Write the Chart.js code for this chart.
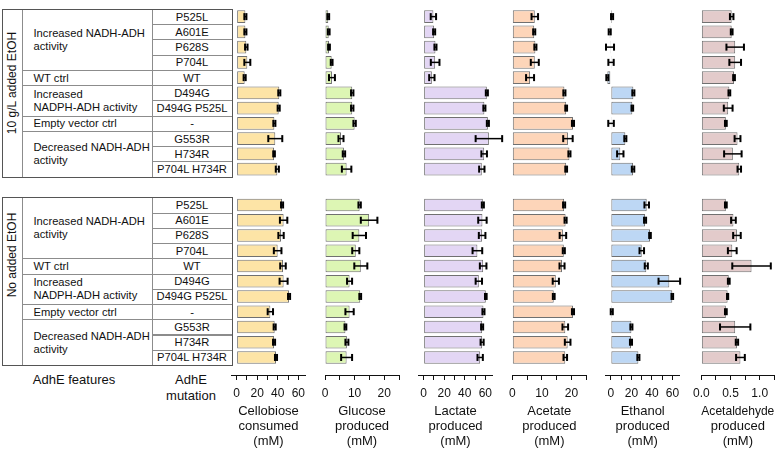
<!DOCTYPE html>
<html>
<head>
<meta charset="utf-8">
<script src="https://cdn.jsdelivr.net/npm/chart.js@4.4.1/dist/chart.umd.min.js"></script>
<style>
    body { margin: 0; background: #fff; font-family: "Liberation Sans", Arial, sans-serif; color: #111; }
    #wrap { position: relative; width: 775px; height: 449px; overflow: hidden; }
    .cell { position: absolute; box-sizing: border-box; border: 1px solid #8c8c8c; display: flex; align-items: center; font-size: 11.2px; line-height: 13px; white-space: nowrap; }
    .feat { padding-left: 11px; }
    .mut { justify-content: center; }
    .box { position: absolute; box-sizing: border-box; border: 1px solid #555; }
    .vlabel { position: absolute; font-size: 12px; white-space: nowrap; transform: translate(-50%, -50%) rotate(-90deg); }
    .foot { position: absolute; font-size: 13px; line-height: 16px; text-align: center; transform: translateX(-50%); white-space: nowrap; }
    canvas { position: absolute; top: 0; }
</style>
</head>
<body>
<div id="wrap"></div>
<script>
// =====================
// DATA (first 11 rows: 10 g/L added EtOH, last 11 rows: no added EtOH)
// =====================
const conditions = ['10 g/L added EtOH', 'No added EtOH'];
const featureLabels = ['Increased NADH-ADH<br>activity', 'WT ctrl', 'Increased<br>NADPH-ADH activity', 'Empty vector ctrl', 'Decreased NADH-ADH<br>activity'];
const featureSpans = [4, 1, 2, 1, 3];
const mutations = ['P525L', 'A601E', 'P628S', 'P704L', 'WT', 'D494G', 'D494G P525L', '-', 'G553R', 'H734R', 'P704L H734R'];

const cellobiose    = [8.5, 8.5, 9.4, 10.4, 7.8, 41.5, 40.9, 36.7, 37.6, 36.4, 39.6, 44.2, 45.7, 43.2, 39.9, 45.1, 45.7, 51.0, 32.8, 37.0, 36.4, 38.3];
const cellobioseErr = [1.0, 1.0, 1.2, 2.9, 1.0, 1.0, 1.0, 1.0, 6.8, 0.8, 1.5, 1.0, 3.6, 2.6, 3.7, 2.7, 3.9, 1.0, 2.6, 1.0, 1.0, 1.0];

const glucose    = [1.1, 1.25, 1.35, 2.25, 2.35, 9.2, 9.2, 10.0, 5.4, 6.4, 7.3, 11.7, 14.9, 11.6, 10.4, 12.1, 8.3, 11.9, 8.3, 6.9, 7.4, 7.3];
const glucoseErr = [0.3, 0.3, 0.3, 0.3, 1.0, 0.4, 0.4, 0.4, 0.85, 0.4, 1.6, 0.4, 2.8, 2.25, 1.2, 2.2, 0.85, 0.3, 1.4, 0.3, 0.5, 1.85];

const lactate    = [9.5, 10.2, 11.5, 11.2, 8.0, 61.5, 59.1, 62.5, 63.5, 58.9, 56.6, 57.6, 57.2, 56.9, 52.3, 57.9, 53.7, 60.5, 58.2, 56.9, 56.9, 55.0];
const lactateErr = [2.6, 1.0, 1.0, 4.2, 2.6, 1.0, 1.0, 1.0, 12.9, 2.7, 2.6, 1.0, 4.1, 3.2, 4.7, 3.2, 3.1, 0.8, 1.0, 1.0, 1.5, 2.6];

const acetate    = [7.6, 7.4, 7.8, 7.6, 6.0, 17.6, 18.2, 20.5, 18.8, 19.3, 18.2, 17.5, 18.0, 17.1, 17.4, 16.8, 14.7, 14.0, 20.5, 17.9, 18.7, 17.9];
const acetateErr = [1.1, 0.35, 0.35, 1.35, 1.35, 0.35, 0.3, 0.35, 1.6, 0.35, 0.3, 0.35, 0.35, 1.1, 0.35, 0.85, 1.05, 0.3, 0.35, 0.95, 0.95, 0.6];

const ethanol    = [1.2, -1.1, -0.8, 0.2, -3.4, 21.9, 20.9, 0.2, 14.1, 9.2, 21.6, 34.9, 33.3, 38.1, 30.1, 34.5, 56.9, 59.8, 0.9, 20.0, 19.6, 26.8];
const ethanolErr = [1.0, 1.0, 3.9, 2.6, 1.0, 1.0, 0.8, 2.7, 1.0, 3.1, 1.2, 2.2, 1.0, 0.8, 2.2, 1.5, 10.5, 0.8, 1.0, 1.0, 1.0, 1.0];

const acetaldehyde    = [0.52, 0.52, 0.58, 0.58, 0.56, 0.48, 0.46, 0.42, 0.62, 0.54, 0.65, 0.42, 0.55, 0.61, 0.53, 0.86, 0.47, 0.45, 0.42, 0.58, 0.61, 0.67];
const acetaldehydeErr = [0.03, 0.015, 0.15, 0.1, 0.015, 0.015, 0.075, 0.015, 0.05, 0.15, 0.03, 0.015, 0.04, 0.065, 0.075, 0.33, 0.015, 0.01, 0.015, 0.26, 0.02, 0.075];

// axis ticks and labels
const ticks60 = [0, 10, 20, 30, 40, 50, 60];
const labels60 = [0, 20, 40, 60];
const ticks25 = [0, 5, 10, 15, 20, 25];
const labels25 = [0, 10, 20];
const ticksAld = [0, 0.25, 0.5, 0.75, 1.0, 1.25];
const labelsAld = [0, 0.5, 1.0];

const panels = [
    { values: cellobiose, errors: cellobioseErr, color: '#fde4a6', min: -5, max: 67, ticks: ticks60, labels: labels60, digits: 0, title: ['Cellobiose', 'consumed', '(mM)'] },
    { values: glucose, errors: glucoseErr, color: '#ddf6b4', min: 0, max: 25, ticks: ticks25, labels: labels25, digits: 0, title: ['Glucose', 'produced', '(mM)'] },
    { values: lactate, errors: lactateErr, color: '#e3d6f4', min: -5, max: 67, ticks: ticks60, labels: labels60, digits: 0, title: ['Lactate', 'produced', '(mM)'] },
    { values: acetate, errors: acetateErr, color: '#fdd5b9', min: 0, max: 25, ticks: ticks25, labels: labels25, digits: 0, title: ['Acetate', 'produced', '(mM)'] },
    { values: ethanol, errors: ethanolErr, color: '#bdd7f4', min: -5, max: 67, ticks: ticks60, labels: labels60, digits: 0, title: ['Ethanol', 'produced', '(mM)'] },
    { values: acetaldehyde, errors: acetaldehydeErr, color: '#e3cbcb', min: 0, max: 1.25, ticks: ticksAld, labels: labelsAld, digits: 1, title: ['Acetaldehyde', 'produced', '(mM)'] }
];

// =====================
// LAYOUT
// =====================
const FONT = '"Liberation Sans", Arial, sans-serif';
const ROW_H = 15.245;
const GROUP_TOP = [9, 197.3];
const GAP_ROWS = 1.35;            // extra rows between the two groups
const AXIS_ROWS = 0.65;           // space between last bar and x axis
const COLS = [1.5, 21.5, 151.5, 231.5];
const VLABEL_Y = [83, 254.5];
const PLOT_LEFT = [231.5, 325, 418.5, 512.3, 605.7, 699.3];
const PLOT_W = [74, 74, 74, 74, 74, 75];
const CANVAS_W = 100;
const AXIS_H = 74;

const wrap = document.getElementById('wrap');
const rowPos = i => i < mutations.length ? i : i + GAP_ROWS;

function addDiv(cls, x, y, w, h, html) {
    const d = document.createElement('div');
    d.className = cls;
    d.style.left = x + 'px';
    d.style.top = y + 'px';
    if (w != null) d.style.width = w + 'px';
    if (h != null) d.style.height = h + 'px';
    if (html != null) d.innerHTML = html;
    wrap.appendChild(d);
    return d;
}

// =====================
// TABLE
// =====================
GROUP_TOP.forEach((top, g) => {
    const h = mutations.length * ROW_H;
    addDiv('cell', COLS[0], top, COLS[1] - COLS[0] + 1, h + 1, '');
    let r = 0;
    featureLabels.forEach((lab, k) => {
        addDiv('cell feat', COLS[1], top + r * ROW_H, COLS[2] - COLS[1] + 1, featureSpans[k] * ROW_H + 1, lab);
        r += featureSpans[k];
    });
    mutations.forEach((m, i) => {
        addDiv('cell mut', COLS[2], top + i * ROW_H, COLS[3] - COLS[2] + 1, ROW_H + 1, m);
    });
    addDiv('box', COLS[0], top, COLS[3] - COLS[0] + 1, h + 1);
    addDiv('vlabel', (COLS[0] + COLS[1]) / 2 + 0.5, VLABEL_Y[g], null, null, conditions[g]);
});

addDiv('foot', 74, 372, null, null, 'AdhE features');
addDiv('foot', 191, 372, null, null, 'AdhE<br>mutation');

// =====================
// ERROR BARS
// =====================
const errorBars = {
    id: 'errorBars',
    afterDatasetsDraw(chart) {
        const ctx = chart.ctx;
        const xs = chart.scales.x;
        const ds = chart.data.datasets[0];
        chart.getDatasetMeta(0).data.forEach((bar, i) => {
            const v = ds.data[i].x;
            const lo = xs.getPixelForValue(v - ds.errors[i]);
            const hi = xs.getPixelForValue(v + ds.errors[i]);
            ctx.save();
            ctx.strokeStyle = '#000';
            ctx.lineWidth = 1.5;
            ctx.beginPath();
            ctx.moveTo(lo, bar.y);
            ctx.lineTo(hi, bar.y);
            ctx.stroke();
            ctx.fillStyle = '#000';
            ctx.fillRect(lo - 1, bar.y - 3.5, 2, 7);
            ctx.fillRect(hi - 1, bar.y - 3.5, 2, 7);
            ctx.restore();
        });
    }
};

// =====================
// CHARTS
// =====================
const allRows = cellobiose.map((_, i) => rowPos(i));

panels.forEach((p, k) => {
    const canvas = document.createElement('canvas');
    const left = Math.floor(PLOT_LEFT[k]) - 12;
    const padLeft = PLOT_LEFT[k] - left;
    canvas.width = CANVAS_W;
    canvas.height = 449;
    canvas.style.left = left + 'px';
    wrap.appendChild(canvas);

    const isLabel = v => p.labels.some(l => Math.abs(l - v) < 1e-9);

    new Chart(canvas, {
        type: 'bar',
        data: {
            datasets: [{
                data: p.values.map((v, i) => ({ x: v, y: rowPos(i) })),
                errors: p.errors,
                backgroundColor: p.color,
                borderColor: '#707070',
                borderWidth: 1,
                borderSkipped: false,
                barPercentage: 0.83,
                categoryPercentage: 1
            }]
        },
        options: {
            indexAxis: 'y',
            responsive: false,
            animation: false,
            layout: { padding: { left: padLeft, right: CANVAS_W - padLeft - PLOT_W[k], top: GROUP_TOP[0], bottom: 0 } },
            plugins: { legend: { display: false }, tooltip: { enabled: false } },
            scales: {
                y: {
                    type: 'linear',
                    reverse: true,
                    offset: false,
                    min: -0.5,
                    max: rowPos(allRows.length - 1) + 0.5 + AXIS_ROWS,
                    display: false,
                    grid: { offset: false },
                    ticks: { display: false },
                    afterBuildTicks: s => { s.ticks = allRows.map(v => ({ value: v })); }
                },
                x: {
                    type: 'linear',
                    min: p.min,
                    max: p.max,
                    afterBuildTicks: s => { s.ticks = p.ticks.map(v => ({ value: v })); },
                    afterFit: s => { s.height = AXIS_H; },
                    grid: { drawOnChartArea: false, drawTicks: true, tickLength: 5, tickColor: '#111', tickWidth: 1 },
                    border: { display: true, color: '#111', width: 1 },
                    ticks: {
                        autoSkip: false,
                        maxRotation: 0,
                        padding: 6,
                        color: '#111',
                        font: { family: FONT, size: 12 },
                        callback: v => isLabel(v) ? Number(v).toFixed(p.digits) : ''
                    },
                    title: {
                        display: true,
                        text: p.title,
                        color: '#111',
                        padding: 0,
                        font: { family: FONT, size: 13, lineHeight: '15px' }
                    }
                }
            }
        },
        plugins: [errorBars]
    });
});
</script>
</body>
</html>
